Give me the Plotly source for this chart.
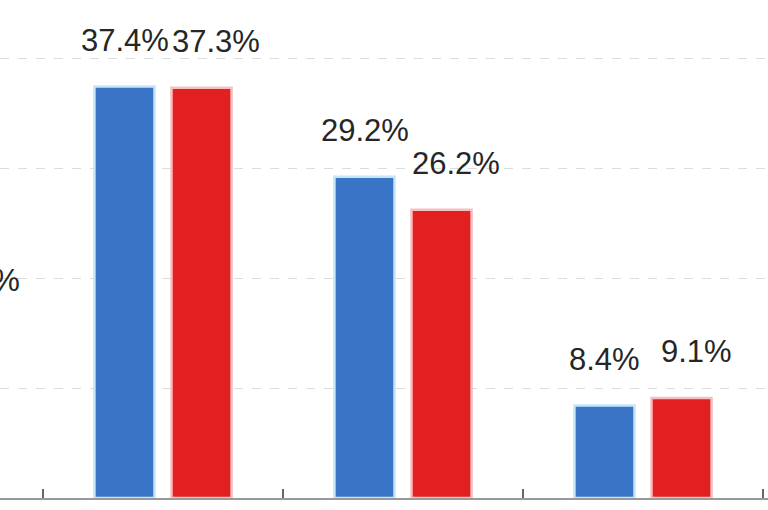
import plotly.graph_objects as go

categories = ["A", "B", "C", "D"]
series_blue = [None, 37.4, 29.2, 8.4]
series_red = [15.6, 37.3, 26.2, 9.1]
blue_labels = ["", "37.4%", "29.2%", "8.4%"]
red_labels = ["15.6%", "37.3%", "26.2%", "9.1%"]

BLUE = "#3a74c6"
RED = "#e2201f"

X_MIN = 1 - 163 / 240
X_MAX = 1 + 605 / 240
PX_PER_CAT = 240

fig = go.Figure()
fig.add_trace(go.Bar(x=categories, y=series_blue, marker=dict(color=BLUE, line=dict(color="#c6e6f7", width=2.5)), name="blue"))
fig.add_trace(go.Bar(x=categories, y=series_red, marker=dict(color=RED, line=dict(color="#f6c0c0", width=2.5)), name="red"))

font = dict(family="Liberation Sans, Arial, sans-serif", size=31, color="#262626")


def add_label(pos, val, text, shift):
    # keep the anchor inside the axis range so plotly draws it; compensate with a pixel shift
    anchor = min(max(pos, X_MIN + 0.001), X_MAX - 0.001)
    fig.add_annotation(x=anchor, y=val, text=text, showarrow=False, yanchor="middle",
                       yshift=46, xshift=shift + (pos - anchor) * PX_PER_CAT, font=font)


for i, (vb, vr) in enumerate(zip(series_blue, series_red)):
    if vb is not None:
        add_label(i - 0.16, vb, blue_labels[i], 0)
    if vr is not None:
        add_label(i + 0.16, vr, red_labels[i], 15)

fig.update_layout(
    width=768, height=510,
    margin=dict(l=0, r=0, t=0, b=12),
    paper_bgcolor="white", plot_bgcolor="white",
    barmode="group", bargap=0.358, bargroupgap=0.22,
    showlegend=False,
    xaxis=dict(range=[X_MIN, X_MAX], showticklabels=False,
               tickson="boundaries", ticks="inside", ticklen=9, tickwidth=2, tickcolor="#666",
               showline=True, linecolor="#999", linewidth=1.5, showgrid=False, zeroline=False),
    yaxis=dict(range=[0, 498 / 11], dtick=10, showticklabels=False, showgrid=True,
               gridcolor="#dcdcdc", griddash="dash", gridwidth=1, zeroline=False, showline=False),
)

fig.write_html("out.html", config={"displayModeBar": False},
               post_script="document.body.style.margin='0';")
